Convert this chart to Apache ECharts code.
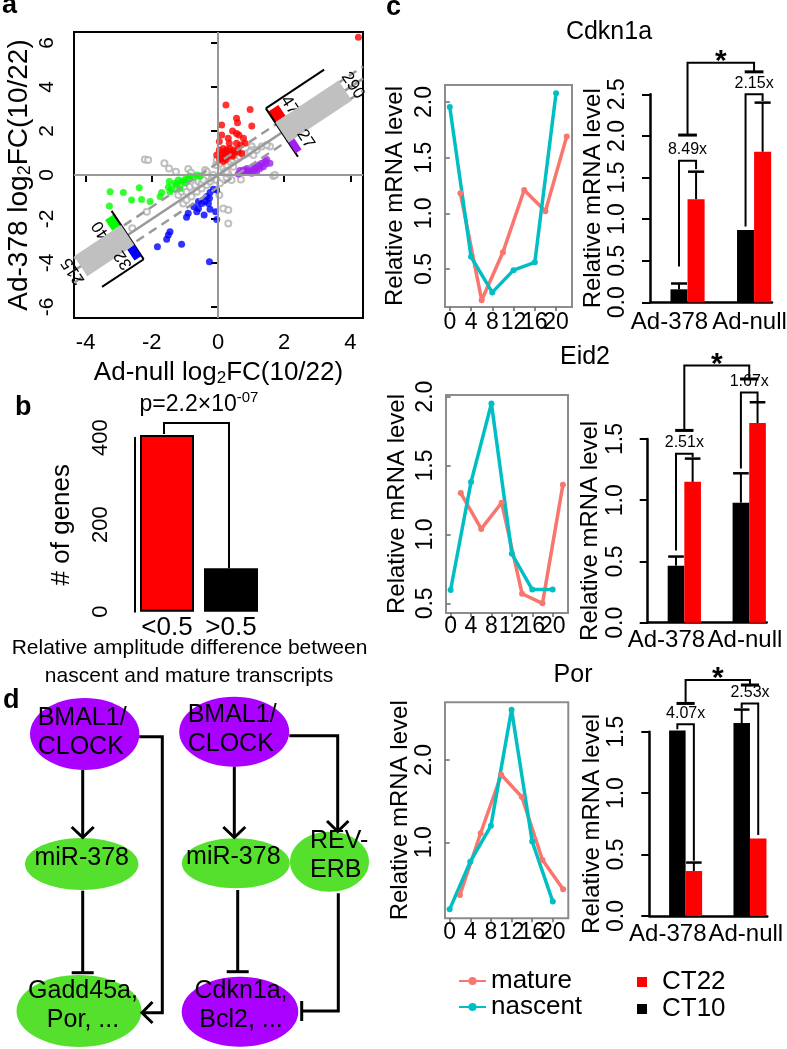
<!DOCTYPE html>
<html>
<head>
<meta charset="utf-8">
<script src="https://cdn.jsdelivr.net/npm/echarts@6/dist/echarts.min.js"></script>
<style>
html, body { margin: 0; padding: 0; background: #fff; }
#chart { width: 787px; height: 1049px; }
</style>
</head>
<body>
<div id="chart"></div>
<script>
const FONT = '"Liberation Sans", Arial, Helvetica, sans-serif';
const SALMON = '#f8766d';
const TEAL = '#00bfc4';
const RED = '#ff0000';
const PURPLE_PT = '#a020f0';
const PURPLE = '#aa00ff';
const GREEN = '#55e02e';

// ---- panel a: log2FC scatter ----
const redPts = [[0.24,3.18],[0.97,2.98],[0.11,2.27],[0.56,2.58],[0.59,2.38],[1.02,2.23],[0.44,2.0],[0.11,1.82],[0.63,1.82],[0.77,1.67],[0.31,1.67],[0.04,1.52],[0.34,1.44],[0.56,1.44],[0.69,1.36],[0.16,1.21],[0.26,1.14],[0.46,1.14],[0.61,1.21],[0.82,1.44],[0.11,0.98],[0.21,0.95],[0.36,1.02],[0.51,1.06],[0.11,0.76],[0.16,0.61],[0.26,0.83],[0.41,0.91],[0.72,0.98],[0.04,1.14],[0.56,1.89],[-0.04,0.91],[0.3,0.9],[0.2,1.05],[0.45,0.85],[0.15,0.88],[0.35,1.2],[0.6,1.05],[0.05,0.7],[0.25,0.7],[4.24,6.26]];
const purplePts = [[0.77,0.23],[0.87,0.30],[0.97,0.15],[1.07,0.38],[1.12,0.23],[1.22,0.45],[1.32,0.53],[1.37,0.38],[1.42,0.61],[1.57,0.53],[1.17,0.15],[1.02,0.08],[0.92,0.11],[0.82,0.15],[1.27,0.30],[1.47,0.71],[0.72,0.11],[0.61,0.05],[0.66,0.2],[1.1,0.3],[0.9,0.2],[1.25,0.4],[1.45,0.5]];
const greenPts = [[-3.26,-0.76],[-2.86,-0.80],[-2.38,-0.58],[-2.61,-1.14],[-2.31,-1.11],[-2.05,-1.21],[-3.28,-1.41],[-1.75,-0.98],[-1.70,-0.80],[-1.50,-0.56],[-1.47,-0.30],[-1.45,-0.76],[-1.30,-0.38],[-1.20,-0.23],[-1.10,-0.30],[-1.0,-0.20],[-0.90,-0.15],[-0.85,-0.05],[-0.75,-0.11],[-0.64,0.0],[-0.54,-0.05],[-1.15,-0.61],[-1.25,-0.45],[-1.0,-0.35],[-1.40,-0.65]];
const bluePts = [[-0.26,-3.94],[-1.83,-3.26],[-1.10,-3.15],[-1.55,-2.92],[-1.50,-2.73],[-1.45,-2.58],[-0.95,-1.92],[-0.90,-1.74],[-0.73,-1.44],[-0.59,-1.52],[-0.49,-1.29],[-0.39,-1.21],[-0.29,-1.29],[-0.26,-1.06],[-0.42,-1.82],[-0.24,-1.56],[-0.07,-1.67],[-0.04,-2.02],[-0.24,-0.80],[-0.14,-0.65],[-0.34,-0.98],[-0.59,-1.21],[-0.04,-0.68],[-0.64,-1.67]];
const grayPts = [[-2.21,0.71],[-2.11,0.68],[-1.62,0.53],[-1.48,0.30],[-1.27,0.15],[-0.90,0.27],[-0.82,0.11],[-0.39,0.23],[-0.34,0.15],[-0.04,0.68],[-0.06,0.45],[0.16,-1.52],[0.31,-1.59],[0.31,-2.2],[0.04,-0.91],[1.02,1.29],[1.05,1.14],[1.57,1.29],[1.67,-0.05],[0.69,-0.20],[0.41,-0.23],[0.26,-0.11],[-2.15,-1.67],[-1.20,-0.91],[-1.10,-0.76],[-1.0,-0.61],[-0.95,-0.76],[-0.85,-0.53],[-0.69,-0.45],[-0.59,-0.30],[-0.49,-0.38],[-1.05,-1.29],[-0.95,-1.14],[-0.80,-0.98],[-0.64,-0.76],[-0.49,-0.61],[-0.34,-0.45],[-0.24,-0.30],[-0.19,-0.15],[-0.14,0],[-0.44,-0.23],[0.16,0.30],[0.26,0.45],[0.36,0.61],[0.46,0.68],[0.56,0.76],[0.66,0.83],[0.77,0.91],[0.87,0.98],[0.97,1.06],[1.07,0.91],[1.17,1.14],[1.32,1.29],[1.47,1.36],[0.21,0.15],[0.31,0.05],[-0.04,-0.23],[0.06,-0.38],[-2.59,-2.42],[0.46,0.38],[0.26,0.15],[1.72,0.0]];
const diagX = [-4.35, 4.38];
const diagOffsets = [0, 0.55, -0.55];
const histUpper = [47, 290, 27];
const histLower = [40, 215, 32];
const scatterXTicks = [-4, -2, 0, 2, 4];
const scatterYTicks = [-6, -4, -2, 0, 2, 4, 6];

// ---- panel b: amplitude difference ----
const ampCats = ['<0.5', '>0.5'];
const ampCounts = [406, 100];
const ampBracketTop = 434;
const pValueText = ['p=2.2×10', '-07'];

// ---- panel c: time courses and bars ----
const hoursNascent = [0, 4, 8, 12, 16, 20];
const hoursMature = [2, 6, 10, 14, 18, 22];
const hourTicks = [0, 4, 8, 12, 16, 20];
const groups = ['Ad-378', 'Ad-null'];

const cdkn1aNascent = [1.955, 0.61, 0.29, 0.49, 0.56, 2.08];
const cdkn1aMature = [1.18, 0.22, 0.65, 1.21, 1.02, 1.69];
const cdkn1aCT10 = [0.156, 0.87];
const cdkn1aCT10Err = [0.07, 0];
const cdkn1aCT22 = [1.24, 1.81];
const cdkn1aCT22Err = [0.33, 0.59];
const cdkn1aFolds = ['8.49x', '2.15x'];
const cdkn1aPair378 = [0.43, 1.70, 1.60];
const cdkn1aPairNull = [0.91, 2.50, 2.42];
const cdkn1aCross = [2.01, 2.88, 2.77];

const eid2Nascent = [0.597, 1.38, 1.95, 0.86, 0.60, 0.60];
const eid2Mature = [1.30, 1.04, 1.23, 0.57, 0.50, 1.36];
const eid2CT10 = [0.466, 0.98];
const eid2CT10Err = [0.074, 0.24];
const eid2CT22 = [1.15, 1.63];
const eid2CT22Err = [0.19, 0.17];
const eid2Folds = ['2.51x', '1.67x'];
const eid2Pair378 = [0.59, 1.38, 1.35];
const eid2PairNull = [1.26, 1.88, 1.81];
const eid2Cross = [1.57, 2.10, 1.99];

const porNascent = [0.186, 0.764, 1.20, 2.61, 1.01, 0.28];
const porMature = [0.36, 1.11, 1.82, 1.55, 0.785, 0.43];
const porCT10 = [1.51, 1.57];
const porCT10Err = [0, 0.11];
const porCT22 = [0.366, 0.63];
const porCT22Err = [0.069, 0];
const porFolds = ['4.07x', '2.53x'];
const porPair378 = [1.52, 1.56, 0.45];
const porPairNull = [1.69, 1.73, 0.66];
const porCross = [1.73, 1.92, 1.88];

const genes = [
  { name: 'Cdkn1a', nascent: cdkn1aNascent, mature: cdkn1aMature, ct10: cdkn1aCT10, ct10Err: cdkn1aCT10Err, ct22: cdkn1aCT22, ct22Err: cdkn1aCT22Err, folds: cdkn1aFolds, pairs: [cdkn1aPair378, cdkn1aPairNull], cross: cdkn1aCross },
  { name: 'Eid2', nascent: eid2Nascent, mature: eid2Mature, ct10: eid2CT10, ct10Err: eid2CT10Err, ct22: eid2CT22, ct22Err: eid2CT22Err, folds: eid2Folds, pairs: [eid2Pair378, eid2PairNull], cross: eid2Cross },
  { name: 'Por', nascent: porNascent, mature: porMature, ct10: porCT10, ct10Err: porCT10Err, ct22: porCT22, ct22Err: porCT22Err, folds: porFolds, pairs: [porPair378, porPairNull], cross: porCross },
];

// layout of the three rows in panel c
const rowLayout = [
  { line: { left: 445, top: 85, width: 127, height: 222 }, bar: { left: 650, top: 94.3, width: 122, height: 208 }, yMin: 0.159, yMax: 2.153, yTicks: [0.5, 1, 1.5, 2], barMax: 2.5, title: [609, 32], lineGap: 38, barGap: 45, lineMargin: 4, barMargin: 8 },
  { line: { left: 446, top: 395, width: 122, height: 218 }, bar: { left: 647.7, top: 439, width: 119, height: 183.7 }, yMin: 0.43, yMax: 2.012, yTicks: [0.5, 1, 1.5, 2], barMax: 1.5, title: [585, 357], lineGap: 37, barGap: 42, lineMargin: 2, barMargin: 6 },
  { line: { left: 445, top: 702.3, width: 123.3, height: 216 }, bar: { left: 649.3, top: 731.7, width: 118, height: 184.3 }, yMin: 0.077, yMax: 2.70, yTicks: [1, 2], barMax: 1.5, title: [573, 675], lineGap: 33, barGap: 44, lineMargin: 3, barMargin: 6 },
];
const groupCenters = [2.2, 6.1];

const chart = echarts.init(document.getElementById('chart'));

const txt = (size, extra) => Object.assign({ fontFamily: FONT, color: '#000', fontSize: size }, extra || {});
const sub = {
  t: { fontFamily: FONT, fontSize: 26, color: '#000' },
  s: { fontFamily: FONT, fontSize: 17, color: '#000', padding: [12, 0, 0, 0] },
};

const grid = [
  { left: 74, top: 32, width: 289, height: 286, show: true, borderColor: '#000', borderWidth: 2 },
  { left: 135, top: 437.7, width: 128, height: 174 },
];
const xAxis = [
  {
    gridIndex: 0, type: 'value', min: -4.35, max: 4.38,
    axisLine: { show: false }, splitLine: { show: false },
    axisTick: { customValues: scatterXTicks, length: 7, lineStyle: { color: '#000', width: 2 } },
    axisLabel: { customValues: scatterXTicks, margin: 14, showMinLabel: true, showMaxLabel: true, ...txt(22) },
    name: '{t|Ad-null log}{s|2}{t|FC(10/22)}', nameLocation: 'middle', nameGap: 40,
    nameTextStyle: { rich: sub },
  },
  {
    gridIndex: 1, type: 'category', data: ampCats,
    axisLine: { show: false }, axisTick: { show: false },
    axisLabel: { interval: 0, margin: 3, ...txt(26) },
  },
];
const yAxis = [
  {
    gridIndex: 0, type: 'value', min: -6.5, max: 6.5,
    axisLine: { show: false }, splitLine: { show: false },
    axisTick: { customValues: scatterYTicks, length: 7, lineStyle: { color: '#000', width: 2 } },
    axisLabel: { customValues: scatterYTicks, rotate: 90, margin: 16, showMinLabel: true, showMaxLabel: true, ...txt(21) },
    name: '{t|Ad-378 log}{s|2}{t|FC(10/22)}', nameLocation: 'middle', nameRotate: 90, nameGap: 40,
    nameTextStyle: { rich: { t: Object.assign({}, sub.t, { fontSize: 28 }), s: Object.assign({}, sub.s, { fontSize: 18 }) } },
  },
  {
    gridIndex: 1, type: 'value', min: 0, max: 400, interval: 100,
    axisLine: { show: true, lineStyle: { color: '#000', width: 2 } },
    axisTick: { length: 10, lineStyle: { color: '#000', width: 2 } },
    splitLine: { show: false },
    axisLabel: { rotate: 90, margin: 23, formatter: v => (v % 200 === 0 ? String(v) : ''), ...txt(22) },
    name: '# of genes', nameLocation: 'middle', nameRotate: 90, nameGap: 60, nameTextStyle: txt(26),
  },
];

// rotated marginal histograms along the diagonal
const histLanes = [[-25, -12], [-12, 12], [12, 25]];
const HIST_SCALE = 0.262;
function histSeries(counts, colors, baseVal, dir, axisSide, axisLen, textRot) {
  return {
    type: 'custom', coordinateSystem: 'cartesian2d', xAxisIndex: 0, yAxisIndex: 0, silent: true, z: 5,
    data: counts.map((c, i) => [c, i]),
    renderItem(params, api) {
      const i = params.dataIndex;
      const count = api.value(0);
      const o = api.coord([0, 0]), d = api.coord([1, 1]);
      let ux = d[0] - o[0], uy = d[1] - o[1];
      const L = Math.hypot(ux, uy);
      ux /= L; uy /= L;
      const nx = -uy, ny = ux;
      ux *= dir; uy *= dir;
      const b = api.coord([baseVal, baseVal]);
      const pt = (a, s) => [b[0] + nx * s + ux * a, b[1] + ny * s + uy * a];
      const lane = histLanes[i];
      const len = count * HIST_SCALE;
      const kids = [{
        type: 'polygon',
        shape: { points: [pt(0, lane[0]), pt(0, lane[1]), pt(len, lane[1]), pt(len, lane[0])] },
        style: { fill: colors[i] },
      }];
      const lp = pt(len + 9, (lane[0] + lane[1]) / 2);
      kids.push({ type: 'text', x: lp[0], y: lp[1], rotation: textRot,
        style: { text: String(count), fontSize: 17, fontFamily: FONT, fill: '#000', align: 'center', verticalAlign: 'middle' } });
      if (i === 0) {
        kids.push({ type: 'polyline', shape: { points: [pt(0, -29), pt(0, 29)] }, style: { stroke: '#000', lineWidth: 2, fill: null } });
        kids.push({ type: 'polyline', shape: { points: [pt(0, axisSide), pt(axisLen, axisSide)] }, style: { stroke: '#000', lineWidth: 2, fill: null } });
      }
      return { type: 'group', children: kids };
    },
  };
}

const series = [
  {
    type: 'scatter', xAxisIndex: 0, yAxisIndex: 0, data: grayPts, symbol: 'emptyCircle', symbolSize: 6,
    itemStyle: { color: '#b0b0b0', borderWidth: 1.2 },
    markLine: { silent: true, symbol: 'none', label: { show: false }, lineStyle: { color: '#999', type: 'solid', width: 2 }, data: [{ xAxis: 0 }, { yAxis: 0 }] },
  },
  ...diagOffsets.map(off => ({
    type: 'line', xAxisIndex: 0, yAxisIndex: 0, silent: true, symbol: 'none',
    data: diagX.map(x => [x, x + off]),
    lineStyle: { color: '#9a9a9a', width: 2.5, type: off === 0 ? 'solid' : [9, 6] },
  })),
  { type: 'scatter', xAxisIndex: 0, yAxisIndex: 0, data: redPts, symbolSize: 7, itemStyle: { color: RED } },
  { type: 'scatter', xAxisIndex: 0, yAxisIndex: 0, data: purplePts, symbolSize: 7, itemStyle: { color: PURPLE_PT } },
  { type: 'scatter', xAxisIndex: 0, yAxisIndex: 0, data: greenPts, symbolSize: 7, itemStyle: { color: '#00ff00' } },
  { type: 'scatter', xAxisIndex: 0, yAxisIndex: 0, data: bluePts, symbolSize: 7, itemStyle: { color: '#0000ff' } },
  histSeries(histUpper, [RED, '#c0c0c0', PURPLE_PT], 1.93, 1, -29, 70, -0.985),
  histSeries(histLower, ['#00ff00', '#c0c0c0', '#0000ff'], -2.73, -1, 29, 50, 2.157),
  {
    type: 'bar', xAxisIndex: 1, yAxisIndex: 1, barWidth: 54, clip: false,
    data: ampCounts.map((v, i) => ({ value: v, itemStyle: { color: i === 0 ? RED : '#000' } })),
    itemStyle: { borderColor: '#000', borderWidth: 2 },
  },
  {
    type: 'custom', xAxisIndex: 1, yAxisIndex: 1, silent: true, data: [[0, ampBracketTop]],
    renderItem(params, api) {
      const a = api.coord([0, ampCounts[0]]), b = api.coord([1, ampCounts[1]]);
      const top = api.coord([0, api.value(1)])[1];
      return {
        type: 'group', children: [
          { type: 'polyline', shape: { points: [[a[0] - 3, a[1] - 1], [a[0] - 3, top], [b[0] - 2, top], [b[0] - 2, b[1]]] }, style: { stroke: '#000', lineWidth: 2, fill: null } },
          { type: 'text', x: (a[0] + b[0]) / 2, y: top - 18, style: {
            text: '{n|' + pValueText[0] + '}{p|' + pValueText[1] + '}', align: 'center', verticalAlign: 'middle',
            rich: { n: { fontSize: 23, fontFamily: FONT, fill: '#000' }, p: { fontSize: 15, fontFamily: FONT, fill: '#000', padding: [0, 0, 14, 0] } },
          } },
        ],
      };
    },
  },
];

function barSeries(name, color, xi, yi, vals, errs, offset) {
  return {
    type: 'custom', name, coordinateSystem: 'cartesian2d', xAxisIndex: xi, yAxisIndex: yi, clip: false,
    itemStyle: { color },
    data: vals.map((v, i) => [groupCenters[i] + offset, v, errs[i]]),
    renderItem(params, api) {
      const x = api.value(0), v = api.value(1), e = api.value(2);
      const tl = api.coord([x - 0.5, v]), br = api.coord([x + 0.5, 0]);
      const kids = [{ type: 'rect', shape: { x: tl[0], y: tl[1], width: br[0] - tl[0], height: br[1] - tl[1] }, style: { fill: api.visual('color') } }];
      if (e > 0) {
        const top = api.coord([x, v + e]);
        const hw = (br[0] - tl[0]) / 2 - 0.5;
        kids.push({ type: 'line', shape: { x1: top[0], y1: tl[1], x2: top[0], y2: top[1] }, style: { stroke: '#000', lineWidth: 2 } });
        kids.push({ type: 'line', shape: { x1: top[0] - hw, y1: top[1], x2: top[0] + hw, y2: top[1] }, style: { stroke: '#000', lineWidth: 2.5 } });
      }
      return { type: 'group', children: kids };
    },
  };
}

function bracketSeries(xi, yi, gene) {
  return {
    type: 'custom', coordinateSystem: 'cartesian2d', xAxisIndex: xi, yAxisIndex: yi, clip: false, silent: true,
    data: [[groupCenters[0], gene.cross[1]]],
    renderItem(params, api) {
      const kids = [];
      const ln = (pts, w) => ({ type: 'polyline', shape: { points: pts }, style: { stroke: '#000', lineWidth: w || 2, fill: null } });
      gene.pairs.forEach((p, g) => {
        const c = groupCenters[g];
        const a = api.coord([c - 0.5, p[0]]), t1 = api.coord([c - 0.5, p[1]]);
        const t2 = api.coord([c + 0.5, p[1]]), b = api.coord([c + 0.5, p[2]]);
        kids.push(ln([a, t1, t2, b]));
        const lab = api.coord([c, p[1]]);
        kids.push({ type: 'text', x: lab[0], y: lab[1] - 11, style: { text: gene.folds[g], fontSize: 16, fontFamily: FONT, fill: '#000', align: 'center', verticalAlign: 'middle' } });
      });
      const cr = gene.cross;
      const l0 = api.coord([groupCenters[0], cr[0]]), l1 = api.coord([groupCenters[0], cr[1]]);
      const r1 = api.coord([groupCenters[1], cr[1]]), r0 = api.coord([groupCenters[1], cr[2]]);
      const cap = api.size([1.1, 0])[0] / 2;
      kids.push(ln([l0, l1, r1, r0]));
      kids.push(ln([[l0[0] - cap, l0[1]], [l0[0] + cap, l0[1]]], 3));
      kids.push(ln([[r0[0] - cap, r0[1]], [r0[0] + cap, r0[1]]], 3));
      kids.push({ type: 'text', x: (l1[0] + r1[0]) / 2, y: l1[1] - 1, style: { text: '*', fontSize: 30, fontWeight: 'bold', fontFamily: FONT, fill: '#000', align: 'center', verticalAlign: 'middle' } });
      return { type: 'group', children: kids };
    },
  };
}

const graphicEls = [];

genes.forEach((gene, r) => {
  const lay = rowLayout[r];
  const gLine = grid.length;
  grid.push(Object.assign({ show: true, borderColor: '#8c8c8c', borderWidth: 2 }, lay.line));
  const gBar = grid.length;
  grid.push(Object.assign({}, lay.bar));

  // hour labels sit closer than their own width, so they are split over two
  // overlaid axes (every other hour) to keep all six visible
  const xLine = xAxis.length;
  xAxis.push({
    gridIndex: gLine, type: 'value', min: -0.9, max: 23,
    axisLine: { show: false }, splitLine: { show: false },
    axisTick: { customValues: hourTicks, length: 4, lineStyle: { color: '#666', width: 1.5 } },
    axisLabel: { customValues: hourTicks.filter((h, i) => i % 2 === 0), margin: lay.lineMargin, showMinLabel: true, showMaxLabel: true, ...txt(23) },
  });
  xAxis.push({
    gridIndex: gLine, type: 'value', min: -0.9, max: 23, position: 'bottom', offset: 0,
    axisLine: { show: false }, splitLine: { show: false }, axisTick: { show: false },
    axisLabel: { customValues: hourTicks.filter((h, i) => i % 2 === 1), margin: lay.lineMargin, showMinLabel: true, showMaxLabel: true, ...txt(23) },
  });
  const xBar = xAxis.length;
  xAxis.push({
    gridIndex: gBar, type: 'value', min: 0, max: 7.15,
    axisLine: { show: true, onZero: false, lineStyle: { color: '#000', width: 2.5 } },
    axisTick: { show: false }, axisLabel: { show: false }, splitLine: { show: false },
  });
  xAxis.push({
    gridIndex: gBar, type: 'category', position: 'bottom', data: groups,
    axisLine: { show: false }, axisTick: { show: false }, splitLine: { show: false },
    axisLabel: {
      interval: 0, margin: lay.barMargin,
      formatter: (v, i) => (i === 0 ? '{l|' + v + '}' : '{r|' + v + '}'),
      rich: {
        l: { fontSize: 24, fontFamily: FONT, color: '#000', padding: [0, 22, 0, 0] },
        r: { fontSize: 24, fontFamily: FONT, color: '#000', padding: [0, 0, 0, 16] },
      },
    },
  });

  const yLine = yAxis.length;
  yAxis.push({
    gridIndex: gLine, type: 'value', min: lay.yMin, max: lay.yMax,
    axisLine: { show: false }, splitLine: { show: false },
    axisTick: { customValues: lay.yTicks, length: 4, lineStyle: { color: '#666', width: 1.5 } },
    axisLabel: { customValues: lay.yTicks, rotate: 90, margin: 9, showMinLabel: true, showMaxLabel: true, formatter: v => v.toFixed(1), ...txt(23) },
    name: 'Relative mRNA level', nameLocation: 'middle', nameRotate: 90, nameGap: lay.lineGap, nameTextStyle: txt(24),
  });
  const yBar = yAxis.length;
  yAxis.push({
    gridIndex: gBar, type: 'value', min: 0, max: lay.barMax, interval: 0.5,
    axisLine: { show: true, lineStyle: { color: '#000', width: 2.5 } },
    axisTick: { length: 8, lineStyle: { color: '#000', width: 2 } },
    splitLine: { show: false },
    axisLabel: { rotate: 90, margin: 21, showMinLabel: true, showMaxLabel: true, formatter: v => v.toFixed(1), ...txt(23) },
    name: 'Relative mRNA level', nameLocation: 'middle', nameRotate: 90, nameGap: lay.barGap, nameTextStyle: txt(24),
  });

  series.push({
    type: 'line', name: 'mature', xAxisIndex: xLine, yAxisIndex: yLine,
    data: hoursMature.map((h, i) => [h, gene.mature[i]]),
    symbol: 'circle', symbolSize: 6, lineStyle: { width: 3.5, color: SALMON }, itemStyle: { color: SALMON },
  });
  series.push({
    type: 'line', name: 'nascent', xAxisIndex: xLine, yAxisIndex: yLine,
    data: hoursNascent.map((h, i) => [h, gene.nascent[i]]),
    symbol: 'circle', symbolSize: 6, lineStyle: { width: 3.5, color: TEAL }, itemStyle: { color: TEAL },
  });
  series.push(barSeries('CT10', '#000', xBar, yBar, gene.ct10, gene.ct10Err, -0.5));
  series.push(barSeries('CT22', RED, xBar, yBar, gene.ct22, gene.ct22Err, 0.5));
  series.push(bracketSeries(xBar, yBar, gene));

  graphicEls.push({ type: 'text', x: lay.title[0], y: lay.title[1], style: { text: gene.name, fontSize: 25, fontFamily: FONT, fill: '#000', align: 'center', verticalAlign: 'middle' } });
});

grid.forEach(g => { g.outerBoundsMode = 'none'; });

// panel letters and panel b caption
[['a', 2, 6], ['b', 15, 408], ['c', 386, 8], ['d', 3, 701]].forEach(([t, x, y]) => {
  graphicEls.push({ type: 'text', x, y, style: { text: t, fontSize: 27, fontWeight: 'bold', fontFamily: FONT, fill: '#000', align: 'left', verticalAlign: 'middle' } });
});
graphicEls.push({ type: 'text', x: 189.5, y: 648, style: { text: 'Relative amplitude difference between', fontSize: 21, fontFamily: FONT, fill: '#000', align: 'center', verticalAlign: 'middle' } });
graphicEls.push({ type: 'text', x: 189, y: 676, style: { text: 'nascent and mature transcripts', fontSize: 21, fontFamily: FONT, fill: '#000', align: 'center', verticalAlign: 'middle' } });

// panel d: regulatory diagram
const nodes = [
  { cx: 84.7, cy: 734, rx: 54.7, ry: 36, fill: PURPLE, text: 'BMAL1/\nCLOCK', tx: 37.7, ty: 732.5, align: 'left' },
  { cx: 81.7, cy: 864, rx: 56.7, ry: 26, fill: GREEN, text: 'miR-378', tx: 81.7, ty: 858, align: 'center' },
  { cx: 79, cy: 1011, rx: 62.5, ry: 36, fill: GREEN, text: 'Gadd45a,\nPor, ...', tx: 83, ty: 1006, align: 'center' },
  { cx: 234.2, cy: 731.7, rx: 55, ry: 35, fill: PURPLE, text: 'BMAL1/\nCLOCK', tx: 187.7, ty: 729.7, align: 'left' },
  { cx: 235.8, cy: 863.3, rx: 54, ry: 25, fill: GREEN, text: 'miR-378', tx: 233.3, ty: 856.7, align: 'center' },
  { cx: 329.5, cy: 861.7, rx: 39.5, ry: 30, fill: GREEN, text: 'REV-\nERB', tx: 310, ty: 856, align: 'left' },
  { cx: 240, cy: 1011.7, rx: 58.3, ry: 35, fill: PURPLE, text: 'Cdkn1a,\nBcl2, ...', tx: 241, ty: 1005.5, align: 'center' },
];
nodes.forEach(n => {
  graphicEls.push({ type: 'ellipse', shape: { cx: n.cx, cy: n.cy, rx: n.rx, ry: n.ry }, style: { fill: n.fill }, z: 1 });
  graphicEls.push({ type: 'text', x: n.tx, y: n.ty, z: 2, style: { text: n.text, fontSize: 25, lineHeight: 29, fontFamily: FONT, fill: '#000', align: n.align, verticalAlign: 'middle' } });
});
const edges = [
  [[82.7, 770], [82.7, 836]],
  [[71.7, 827], [82.7, 837.5], [93.7, 827]],
  [[82.7, 890.7], [82.7, 972.7]],
  [[71.7, 972.7], [93.7, 972.7]],
  [[139.3, 736.7], [162.3, 736.7], [162.3, 1012.7], [143, 1012.7]],
  [[152.5, 1002], [142, 1012.7], [152.5, 1023]],
  [[234.3, 766.7], [234.3, 836]],
  [[223.3, 827], [234.3, 837.5], [245.3, 827]],
  [[289.3, 735.7], [337.7, 735.7], [337.7, 830]],
  [[327, 821], [337.7, 831.5], [348.4, 821]],
  [[237.7, 890], [237.7, 971.7]],
  [[226.7, 971.7], [248.7, 971.7]],
  [[338.3, 893.3], [338.3, 1011], [301.7, 1011]],
  [[301.7, 1001], [301.7, 1021]],
];
edges.forEach(pts => {
  graphicEls.push({ type: 'polyline', shape: { points: pts }, z: 3, style: { stroke: '#000', lineWidth: 3, fill: null } });
});

chart.setOption({
  animation: false,
  backgroundColor: '#fff',
  textStyle: { fontFamily: FONT },
  grid, xAxis, yAxis, series,
  legend: [
    {
      data: ['mature', 'nascent'], orient: 'vertical', left: 453, top: 963,
      itemWidth: 27, itemHeight: 10, itemGap: 0, selectedMode: false,
      textStyle: txt(26),
    },
    {
      data: [{ name: 'CT22', icon: 'rect' }, { name: 'CT10', icon: 'rect' }], orient: 'vertical', left: 632, top: 964,
      itemWidth: 10, itemHeight: 10, itemGap: 1, selectedMode: false,
      textStyle: txt(26, { padding: [0, 0, 0, 10] }),
    },
  ],
  graphic: graphicEls,
});

window.addEventListener('resize', () => chart.resize());
</script>
</body>
</html>
